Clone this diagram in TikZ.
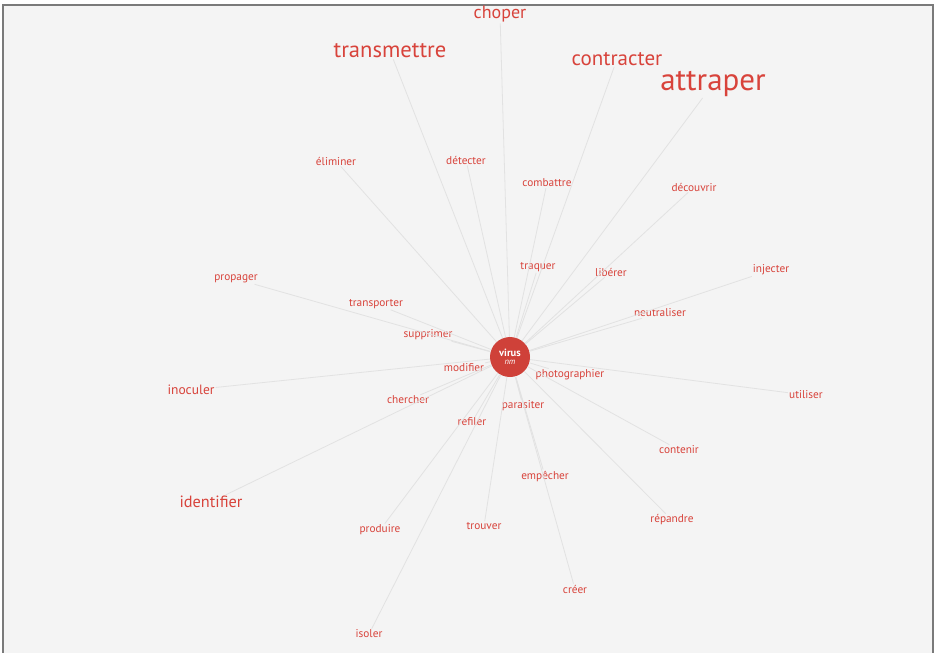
\documentclass[tikz,border=0pt]{standalone}
\usepackage{fontspec}
\setmainfont{PT Sans}
\usepackage{tikz}

\definecolor{wordred}{HTML}{D8433B}
\definecolor{hubred}{HTML}{CF4139}
\definecolor{paper}{HTML}{F4F4F4}
\definecolor{linkgray}{HTML}{E2E2E2}
\definecolor{framegray}{HTML}{7A7A7A}

\tikzset{
  word/.style={text=wordred, inner sep=1pt, font=\fontsize{11.3}{13}\selectfont},
  bigword/.style={word, font=\fontsize{13.5}{15}\selectfont},
  link/.style={draw=linkgray, line width=0.8pt},
}

\begin{document}
\begin{tikzpicture}[x=1pt, y=-1pt]
    % page and frame
    \useasboundingbox (0,0) rectangle (938,653);
    \fill[white] (0,0) rectangle (938,653);
    \fill[paper] (3,5) rectangle (933,653);
    \draw[framegray, line width=1.6pt] (3,653) -- (3,5) -- (933,5) -- (933,653);

    % the word in the middle
    \node[circle, fill=hubred, minimum size=40pt, inner sep=0pt, align=center,
          text=white, font=\fontsize{10.5}{10}\selectfont] (virus) at (510,357)
          {\textbf{virus}\\[-2pt]{\fontsize{8.5}{8}\selectfont\itshape nm}};

    % words around it
    \node[word, font=\fontsize{18}{20}\selectfont] (choper) at (500,14) {choper};
    \node[word, font=\fontsize{22.6}{24}\selectfont] (transmettre) at (390,51) {transmettre};
    \node[word, font=\fontsize{21}{23}\selectfont] (contracter) at (617,59) {contracter};
    \node[word, font=\fontsize{31}{33}\selectfont] (attraper) at (713,84) {attraper};
    \node[word] (eliminer) at (336,161) {éliminer};
    \node[word] (detecter) at (466,160) {détecter};
    \node[word] (combattre) at (547,183) {combattre};
    \node[word] (decouvrir) at (694,187) {découvrir};
    \node[word] (traquer) at (538,267) {traquer};
    \node[word] (liberer) at (611,272) {libérer};
    \node[word] (injecter) at (771,270) {injecter};
    \node[word] (propager) at (236,279) {propager};
    \node[word] (transporter) at (376,304) {transporter};
    \node[word] (neutraliser) at (660,313) {neutraliser};
    \node[word] (supprimer) at (428,335) {supprimer};
    \node[word] (modifier) at (464,368) {modifier};
    \node[word] (photographier) at (570,375) {photographier};
    \node[bigword] (inoculer) at (191,390) {inoculer};
    \node[word] (utiliser) at (806,395) {utiliser};
    \node[word] (chercher) at (408,400) {chercher};
    \node[word] (parasiter) at (523,406) {parasiter};
    \node[word] (refiler) at (472,422) {refiler};
    \node[word] (contenir) at (679,450) {contenir};
    \node[word] (empecher) at (545,476) {empêcher};
    \node[bigword, font=\fontsize{16.3}{18}\selectfont] (identifier) at (211,502) {identifier};
    \node[word] (repandre) at (672,520) {répandre};
    \node[word] (trouver) at (484,526) {trouver};
    \node[word] (produire) at (380,530) {produire};
    \node[word] (creer) at (575,589) {créer};
    \node[word] (isoler) at (369,634) {isoler};

    % links from the middle out to every word
    \foreach \w in {choper, transmettre, contracter, attraper, eliminer, detecter,
                    combattre, decouvrir, traquer, liberer, injecter, propager,
                    transporter, neutraliser, supprimer, modifier, photographier,
                    inoculer, utiliser, chercher, parasiter, refiler, contenir,
                    empecher, identifier, repandre, trouver, produire, creer, isoler}
        \draw[link] (virus) -- (\w);
\end{tikzpicture}
\end{document}
